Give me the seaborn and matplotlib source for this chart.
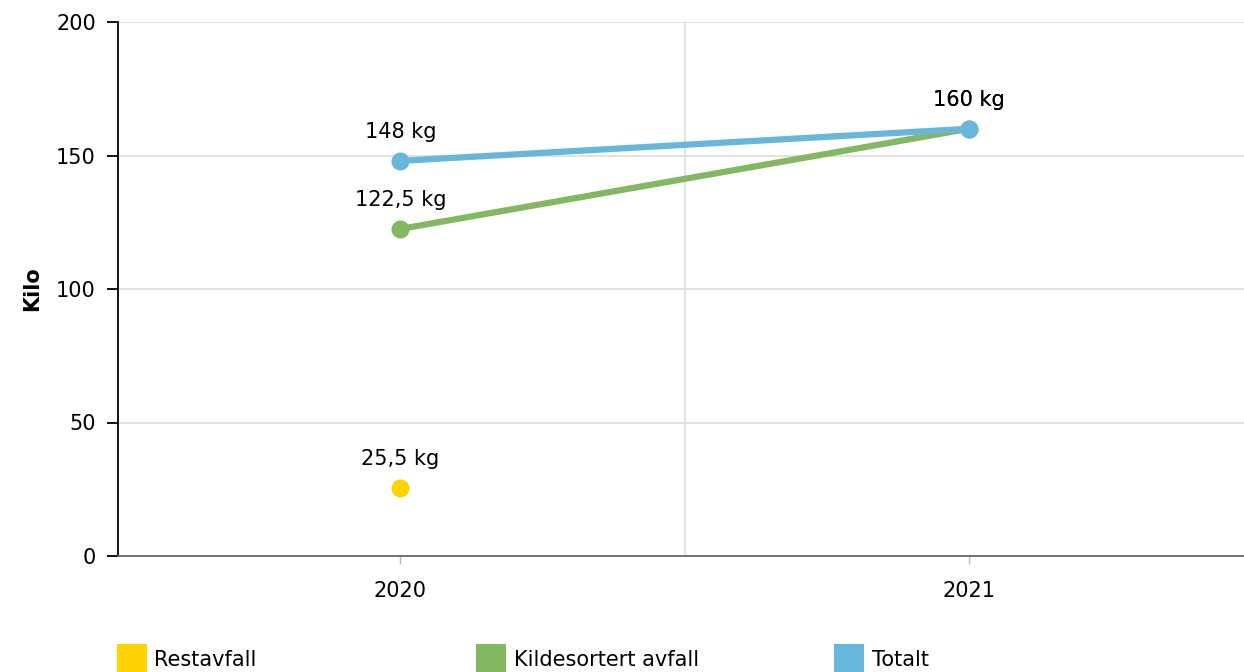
import matplotlib
matplotlib.use("Agg")
import matplotlib.pyplot as plt
from matplotlib.lines import Line2D
import seaborn as sns
import pandas as pd

years = ["2020", "2021"]
restavfall = [25.5, None]
kildesortert = [122.5, 160]
totalt = [148, 160]

series_names = ["Restavfall", "Kildesortert avfall", "Totalt"]
colors = ["#FDD400", "#84B761", "#67B7DC"]

rows = []
for name, vals in zip(series_names, [restavfall, kildesortert, totalt]):
    for yr, v in zip(years, vals):
        if v is not None:
            rows.append({"year": yr, "value": v, "series": name})
df = pd.DataFrame(rows)

sns.set_style("white")
plt.rcParams["font.family"] = ["DejaVu Sans"]
plt.rcParams["text.color"] = "#000000"
FS = 15

fig = plt.figure(figsize=(12.44, 6.72), dpi=100)
ax = fig.add_axes([118 / 1244, 1 - 556 / 672, 1135 / 1244, 534 / 672])

for name, color in zip(series_names, colors):
    sub = df[df["series"] == name]
    sns.lineplot(data=sub, x="year", y="value", color=color, linewidth=4.5,
                 marker="o", markersize=13, markeredgewidth=0, ax=ax,
                 legend=False, zorder=3)

# data labels
for name in series_names:
    sub = df[df["series"] == name]
    for _, r in sub.iterrows():
        txt = f"{r['value']:g}".replace(".", ",") + " kg"
        ax.annotate(txt, (years.index(r["year"]), r["value"]),
                    xytext=(0, 21), textcoords="offset points",
                    ha="center", va="center", fontsize=FS, color="#000000")

ax.set_xlim(-0.497, 1.5)
ax.set_ylim(0, 200)
ax.set_yticks([0, 50, 100, 150, 200])
ax.set_xticks([0, 1])
ax.set_xticklabels(years)
ax.set_xticks([0.5], minor=True)

ax.grid(axis="y", color="#dddddd", linewidth=1.2)
ax.grid(axis="x", which="minor", color="#dddddd", linewidth=1.2)
ax.set_axisbelow(True)

ax.spines["top"].set_visible(False)
ax.spines["right"].set_visible(False)
ax.spines["left"].set_color("#000000")
ax.spines["left"].set_linewidth(1.3)
ax.spines["bottom"].set_color("#666666")
ax.spines["bottom"].set_linewidth(1.3)

ax.tick_params(axis="y", length=8, width=1.3, color="#000000", pad=8,
               labelsize=FS, labelcolor="#000000", left=True)
ax.tick_params(axis="x", which="major", length=6, width=1, color="#bbbbbb",
               pad=12, labelsize=FS, labelcolor="#000000", bottom=True)
ax.tick_params(axis="x", which="minor", length=0)

ax.set_xlabel("")
ax.set_ylabel("Kilo", fontsize=FS, fontweight="bold", color="#000000",
              labelpad=10)

# legend, one box per item
leg_x = [117, 476, 834]
for name, color, lx in zip(series_names, colors, leg_x):
    h = Line2D([], [], linestyle="none", marker="s", markersize=22,
               markerfacecolor=color, markeredgewidth=0)
    leg = fig.legend([h], [name], loc="upper left",
                     bbox_to_anchor=(lx / 1244, 1 - 650 / 672),
                     frameon=False, fontsize=FS, handlelength=1.45,
                     handletextpad=0.35, borderpad=0, borderaxespad=0)

fig.savefig("out.png", dpi=100)
